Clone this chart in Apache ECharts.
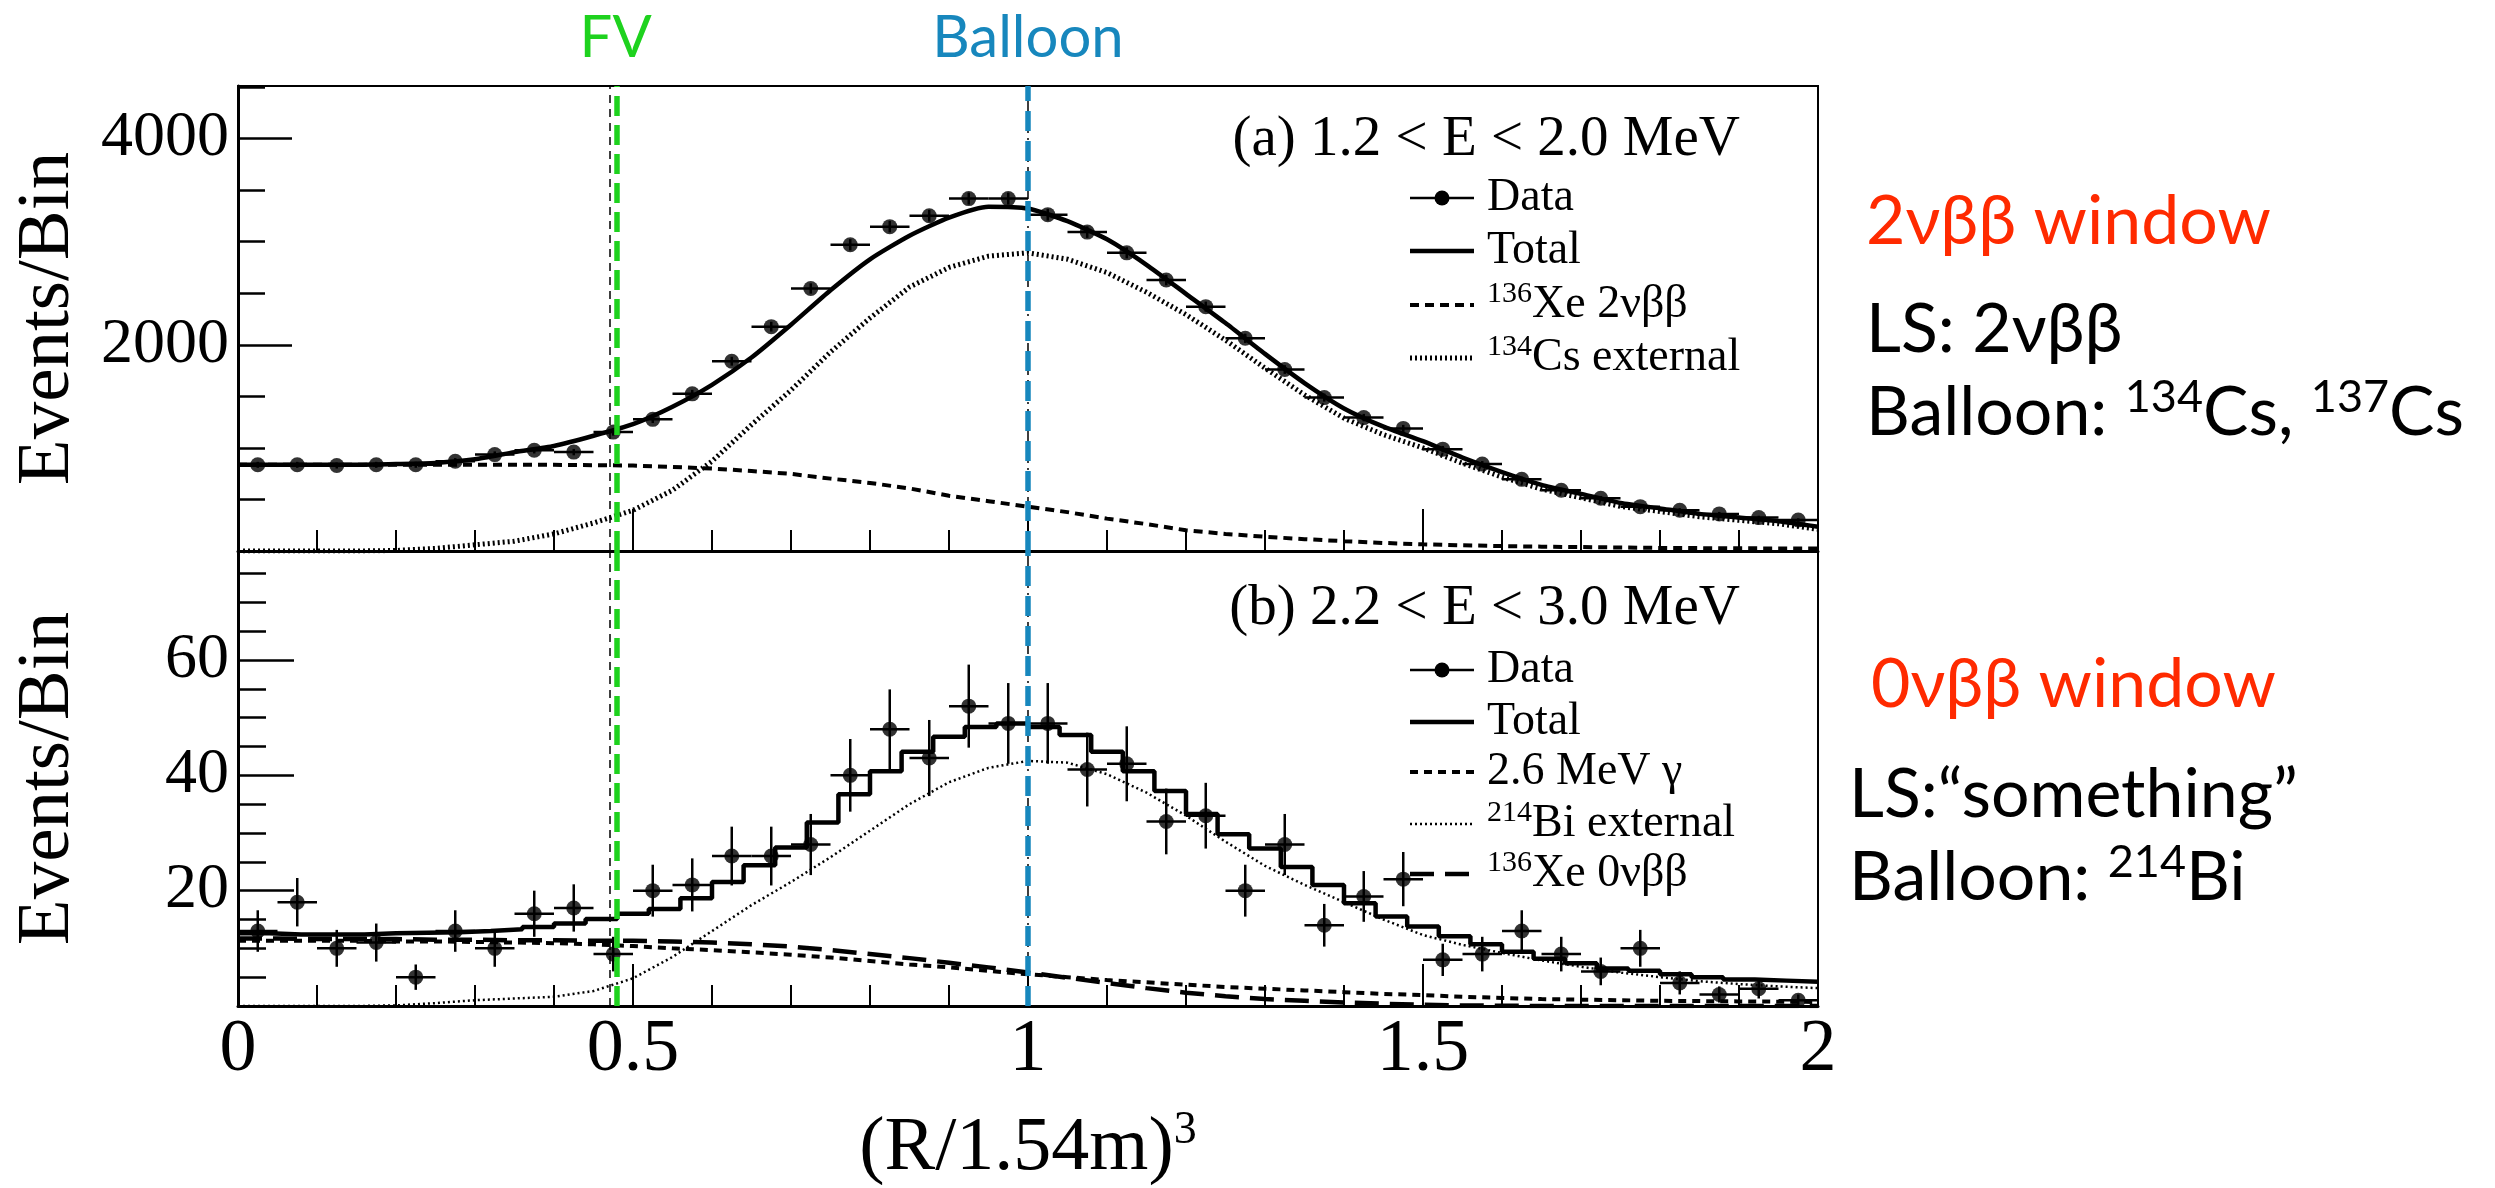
<!DOCTYPE html>
<html>
<head>
<meta charset="utf-8">
<script src="https://cdn.jsdelivr.net/npm/echarts@6/dist/echarts.min.js"></script>
<style>
  html, body { margin: 0; padding: 0; background: #ffffff; }
  #chart { width: 2495px; height: 1188px; }
</style>
</head>
<body>
<div id="chart"></div>
<script>
// ---- radial distribution, (R/1.54m)^3, 40 data bins of width 0.05 ----
const binWidth = 0.05;
const dataX = [0.025, 0.075, 0.125, 0.175, 0.225, 0.275, 0.325, 0.375, 0.425, 0.475,
               0.525, 0.575, 0.625, 0.675, 0.725, 0.775, 0.825, 0.875, 0.925, 0.975,
               1.025, 1.075, 1.125, 1.175, 1.225, 1.275, 1.325, 1.375, 1.425, 1.475,
               1.525, 1.575, 1.625, 1.675, 1.725, 1.775, 1.825, 1.875, 1.925, 1.975];

// (a) 1.2 < E < 2.0 MeV
const topData = [836, 836, 829, 836, 836, 871, 935, 977, 959, 1153,
                 1277, 1524, 1841, 2176, 2546, 2970, 3146, 3252, 3418, 3418,
                 3262, 3093, 2892, 2628, 2370, 2063, 1760, 1488, 1294, 1189,
                 988, 843, 695, 589, 511, 430, 395, 360, 324, 300];
const topErr = [29, 29, 29, 29, 29, 30, 31, 31, 31, 34,
                36, 39, 43, 47, 50, 55, 56, 57, 58, 58,
                57, 56, 54, 51, 49, 45, 42, 39, 36, 34,
                31, 29, 26, 24, 23, 21, 20, 19, 18, 17];

// (b) 2.2 < E < 3.0 MeV
const botData = [13, 18, 10, 11, 5, 13, 10, 16, 17, 9,
                 20, 21, 26, 26, 28, 40, 48, 43, 52, 49,
                 49, 41, 42, 32, 33, 20, 28, 14, 19, 22,
                 8, 9, 13, 9, 6, 10, 4, 2, 3, 1];
const botErr = [3.6, 4.2, 3.2, 3.3, 2.2, 3.6, 3.2, 4.0, 4.1, 3.0,
                4.5, 4.6, 5.1, 5.1, 5.3, 6.3, 6.9, 6.6, 7.2, 7.0,
                7.0, 6.4, 6.5, 5.7, 5.7, 4.5, 5.3, 3.7, 4.4, 4.7,
                2.8, 3.0, 3.6, 3.0, 2.4, 3.2, 2.0, 1.4, 1.7, 1.0];

// ---- fit components, sampled every 0.05 ----
const curveX = [0, 0.05, 0.1, 0.15, 0.2, 0.25, 0.3, 0.35, 0.4, 0.45,
                0.5, 0.55, 0.6, 0.65, 0.7, 0.75, 0.8, 0.85, 0.9, 0.95,
                1.0, 1.05, 1.1, 1.15, 1.2, 1.25, 1.3, 1.35, 1.4, 1.45,
                1.5, 1.55, 1.6, 1.65, 1.7, 1.75, 1.8, 1.85, 1.9, 1.95, 2.0];

const topTotal = [836, 836, 836, 836, 843, 854, 889, 959, 1019, 1118,
                  1231, 1400, 1612, 1876, 2194, 2529, 2829, 3058, 3234, 3340,
                  3322, 3199, 3023, 2776, 2494, 2211, 1912, 1629, 1383, 1206,
                  1065, 906, 765, 642, 554, 466, 413, 360, 324, 289, 236];
const topXe2nu = [836, 836, 836, 836, 836, 836, 836, 836, 836, 832,
                  829, 815, 800, 776, 748, 702, 660, 607, 536, 483,
                  430, 377, 314, 261, 201, 166, 138, 115, 95, 78,
                  65, 55, 48, 42, 38, 34, 30, 28, 26, 25, 25];
const topCs134 = [0, 0, 0, 0, 5, 25, 60, 95, 166, 272,
                  395, 589, 871, 1224, 1560, 1930, 2260, 2560, 2750, 2860,
                  2892, 2830, 2700, 2510, 2293, 2045, 1774, 1514, 1288, 1128,
                  1000, 851, 717, 600, 516, 432, 383, 332, 298, 264, 211];

const botGamma = [11.3, 11.3, 11.3, 11.3, 11.2, 11.2, 11.1, 11.0, 10.9, 10.7,
                  10.4, 10.0, 9.7, 9.3, 8.9, 8.4, 7.8, 7.2, 6.7, 6.1,
                  5.5, 5.0, 4.5, 4.1, 3.7, 3.3, 3.0, 2.7, 2.4, 2.1,
                  1.9, 1.6, 1.4, 1.2, 1.1, 1.0, 0.9, 0.85, 0.8, 0.75, 0.7];
const botBi214 = [0, 0, 0, 0, 0.1, 0.5, 1.0, 1.3, 1.6, 2.6,
                  4.8, 8.5, 13.0, 17.5, 21.5, 25.8, 30.4, 35.0, 38.8, 41.3,
                  42.5, 42.2, 40.2, 37.0, 33.0, 28.5, 24.3, 21.0, 18.0, 15.0,
                  12.3, 10.6, 9.2, 7.9, 6.8, 5.8, 5.0, 4.3, 3.8, 3.4, 3.1];
const botXe0nu = [11.7, 11.7, 11.6, 11.6, 11.6, 11.5, 11.5, 11.4, 11.4, 11.3,
                  11.3, 11.2, 11.0, 10.7, 10.3, 9.7, 9.0, 8.3, 7.5, 6.7,
                  5.8, 4.9, 4.0, 3.1, 2.3, 1.7, 1.2, 0.9, 0.6, 0.4,
                  0.2, 0.1, 0.05, 0, 0, 0, 0, 0, 0, 0, 0];

// total fit in (b) is a histogram with 50 bins of width 0.04
const botTotalBinWidth = 0.04;
const botTotalBins = [12.6, 12.4, 12.4, 12.4, 12.6, 12.7, 12.8, 13.0, 13.3, 13.7,
                      14.3, 15.1, 16.0, 16.8, 18.7, 21.5, 24.4, 27.5, 31.8, 36.7,
                      40.7, 44.1, 46.7, 48.4, 49.0, 48.4, 47.0, 44.1, 40.7, 37.3,
                      33.3, 29.8, 27.3, 24.1, 21.0, 17.8, 15.5, 13.8, 12.1, 10.7,
                      9.4, 8.2, 7.4, 6.5, 6.1, 5.5, 5.0, 4.6, 4.4, 4.2];

// fiducial-volume cut and balloon radius in (R/1.54m)^3
const fvCutLine = 0.472;
const fvMarker = 0.478;
const balloonLine = 1.0;

// axis ranges and tick steps
const xRange = [0, 2];
const topRange = [0, 4510];
const botRange = [0, 78.9];
const topMajor = 2000, topMinor = 500;
const botMajor = 20, botMinor = 5;

// ---------------------------------------------------------------
const SERIF = '"Liberation Serif", "Times New Roman", serif';
const SANS = 'Lato, "Open Sans", sans-serif';
const GREEN = '#1ed21e';
const BLUE = '#1787bd';
const RED = '#ff2a00';

const chart = echarts.init(document.getElementById('chart'), null, { renderer: 'canvas', width: 2495, height: 1188 });

const pair = (xs, ys) => xs.map((x, i) => [x, ys[i]]);

function errorBars(xi, yi, ys, es) {
  return {
    type: 'custom', xAxisIndex: xi, yAxisIndex: yi, z: 6, silent: true,
    data: dataX.map((x, i) => [x, ys[i], es[i]]),
    encode: { x: 0, y: 1 },
    renderItem(params, api) {
      const x = api.value(0), y = api.value(1), e = api.value(2);
      const l = api.coord([x - binWidth / 2, y]);
      const r = api.coord([x + binWidth / 2, y]);
      const t = api.coord([x, y + e]);
      const b = api.coord([x, y - e]);
      const st = { stroke: '#000', lineWidth: 2.5 };
      return {
        type: 'group', children: [
          { type: 'line', shape: { x1: l[0], y1: l[1], x2: r[0], y2: r[1] }, style: st },
          { type: 'line', shape: { x1: t[0], y1: t[1], x2: b[0], y2: b[1] }, style: st }
        ]
      };
    }
  };
}

function points(xi, yi, ys) {
  return {
    type: 'scatter', xAxisIndex: xi, yAxisIndex: yi, z: 7, silent: true,
    symbol: 'circle', symbolSize: 15, itemStyle: { color: '#000' },
    data: pair(dataX, ys)
  };
}

function curve(xi, yi, ys, style, extra) {
  return Object.assign({
    type: 'line', xAxisIndex: xi, yAxisIndex: yi, z: 4, silent: true,
    showSymbol: false, symbol: 'none', smooth: false,
    lineStyle: Object.assign({ color: '#000' }, style),
    data: pair(curveX, ys)
  }, extra || {});
}

function guideLines(xi, yi) {
  return [
    {
      type: 'line', xAxisIndex: xi, yAxisIndex: yi, data: [], z: 3, silent: true,
      markLine: {
        silent: true, symbol: ['none', 'none'], label: { show: false }, animation: false,
        data: [
          { xAxis: fvCutLine, lineStyle: { color: '#000', width: 1.5, type: [8, 6] } },
          { xAxis: balloonLine, lineStyle: { color: '#000', width: 1.5, type: [10, 5, 2, 5] } }
        ]
      }
    },
    {
      type: 'line', xAxisIndex: xi, yAxisIndex: yi, data: [], z: 10, silent: true,
      markLine: {
        silent: true, symbol: ['none', 'none'], label: { show: false }, animation: false, z: 10,
        data: [
          { xAxis: fvMarker, lineStyle: { color: GREEN, width: 5.5, type: [20, 9] } },
          { xAxis: balloonLine, lineStyle: { color: BLUE, width: 5.5, type: [20, 10] } }
        ]
      }
    }
  ];
}

const styles = {
  total: { width: 4.5, type: 'solid' },
  xe2: { width: 4, type: [9, 6] },
  cs: { width: 5, type: [2, 3] },
  gamma: { width: 4, type: [8, 6] },
  bi: { width: 2.5, type: [2, 3] },
  xe0: { width: 4.5, type: [24, 11] }
};

const G = { left: 238, right: 1818, top: 86, mid: 551, bottom: 1044 };

function xAxisDef(gridIndex, labels) {
  return {
    type: 'value', gridIndex, min: xRange[0], max: xRange[1], interval: 0.5,
    axisLine: { show: true, onZero: false, lineStyle: { color: '#000', width: 3 } },
    axisTick: { show: true, inside: true, length: 42, lineStyle: { color: '#000', width: 2 } },
    minorTick: { show: true, splitNumber: 5, length: 21, lineStyle: { color: '#000', width: 2 } },
    splitLine: { show: false }, minorSplitLine: { show: false },
    axisLabel: labels ? {
      show: true, color: '#000', fontFamily: SERIF, fontSize: 74, margin: 8,
      formatter: v => String(v)
    } : { show: false },
    name: labels ? '{m|(R/1.54m)}{s|3}' : '',
    nameLocation: 'middle', nameGap: 102,
    nameTextStyle: {
      color: '#000', fontFamily: SERIF,
      rich: {
        m: { fontSize: 76, fontFamily: SERIF, color: '#000', lineHeight: 82 },
        s: { fontSize: 46, fontFamily: SERIF, color: '#000', verticalAlign: 'top', lineHeight: 82 }
      }
    }
  };
}

function yAxisPair(gridIndex, range, major, minor, tickMajor, tickMinor) {
  const base = {
    type: 'value', gridIndex, position: 'left', min: range[0], max: range[1],
    splitLine: { show: false }
  };
  return [
    Object.assign({}, base, {
      interval: minor,
      axisLine: { show: true, onZero: false, lineStyle: { color: '#000', width: 3 } },
      axisTick: { show: true, inside: true, length: tickMinor, lineStyle: { color: '#000', width: 2.5 } },
      axisLabel: { show: false }
    }),
    Object.assign({}, base, {
      interval: major,
      axisLine: { show: false },
      axisTick: { show: true, inside: true, length: tickMajor, lineStyle: { color: '#000', width: 2.5 } },
      axisLabel: {
        show: true, color: '#000', fontFamily: SERIF, fontSize: 64, margin: 9,
        showMinLabel: false, showMaxLabel: false,
        formatter: v => String(v)
      },
      name: 'Events/Bin', nameLocation: 'middle', nameRotate: 90, nameGap: 152,
      nameTextStyle: { color: '#000', fontFamily: SERIF, fontSize: 75 }
    })
  ];
}

const stepTotal = botTotalBins.map((v, i) => [+(i * botTotalBinWidth).toFixed(2), v]);
stepTotal.push([xRange[1], botTotalBins[botTotalBins.length - 1]]);

const series = [
  // (a)
  curve(0, 0, topCs134, styles.cs),
  curve(0, 0, topXe2nu, styles.xe2),
  curve(0, 0, topTotal, styles.total, { smooth: 0.2 }),
  errorBars(0, 0, topData, topErr),
  points(0, 0, topData),
  // (b)
  curve(1, 2, botBi214, styles.bi),
  curve(1, 2, botGamma, styles.gamma),
  curve(1, 2, botXe0nu, styles.xe0),
  {
    type: 'line', xAxisIndex: 1, yAxisIndex: 2, z: 4, silent: true, showSymbol: false, symbol: 'none',
    step: 'end', lineStyle: Object.assign({ color: '#000' }, styles.total), data: stepTotal
  },
  errorBars(1, 2, botData, botErr),
  points(1, 2, botData)
].concat(guideLines(0, 0), guideLines(1, 2));

// ---- legends, panel captions and side notes ----
function legendBlock(x0, rows) {
  const els = [];
  rows.forEach(r => {
    const y = r.y;
    if (r.kind === 'data') {
      els.push({ type: 'line', shape: { x1: x0, y1: y, x2: x0 + 64, y2: y }, style: { stroke: '#000', lineWidth: 2.5 } });
      els.push({ type: 'circle', shape: { cx: x0 + 32, cy: y, r: 7.5 }, style: { fill: '#000' } });
    } else {
      const s = styles[r.kind];
      els.push({
        type: 'line', shape: { x1: x0, y1: y, x2: x0 + 64, y2: y },
        style: { stroke: '#000', lineWidth: s.width, lineDash: s.type === 'solid' ? null : s.type }
      });
    }
    els.push({
      type: 'text', x: x0 + 77, y: y,
      style: {
        text: r.text, fill: '#000', verticalAlign: 'middle', align: 'left',
        fontFamily: SERIF, fontSize: 46,
        rich: {
          n: { fontFamily: SERIF, fontSize: 46, lineHeight: 52, fill: '#000' },
          s: { fontFamily: SERIF, fontSize: 30, lineHeight: 52, verticalAlign: 'top', fill: '#000' }
        }
      }
    });
  });
  return els;
}

function caption(text, x, y, size, color, align) {
  return {
    type: 'text', x, y,
    style: {
      text, fill: color, align: align || 'left', verticalAlign: 'middle',
      fontFamily: SANS, fontSize: size,
      rich: {
        n: { fontFamily: SANS, fontSize: size, lineHeight: size + 8, fill: color },
        s: { fontFamily: SANS, fontSize: Math.round(size * 0.66), lineHeight: size + 8, verticalAlign: 'top', fill: color }
      }
    }
  };
}

const graphics = []
  .concat(legendBlock(1410, [
    { y: 198, kind: 'data', text: '{n|Data}' },
    { y: 251, kind: 'total', text: '{n|Total}' },
    { y: 305, kind: 'xe2', text: '{s|136}{n|Xe 2νββ}' },
    { y: 358, kind: 'cs', text: '{s|134}{n|Cs external}' }
  ]))
  .concat(legendBlock(1410, [
    { y: 670, kind: 'data', text: '{n|Data}' },
    { y: 722, kind: 'total', text: '{n|Total}' },
    { y: 772, kind: 'gamma', text: '{n|2.6 MeV γ}' },
    { y: 824, kind: 'bi', text: '{s|214}{n|Bi external}' },
    { y: 874, kind: 'xe0', text: '{s|136}{n|Xe 0νββ}' }
  ]))
  .concat([
    { type: 'text', x: 1740, y: 140, style: { text: '(a) 1.2 < E < 2.0 MeV', fill: '#000', align: 'right', verticalAlign: 'middle', fontFamily: SERIF, fontSize: 57 } },
    { type: 'text', x: 1740, y: 609, style: { text: '(b) 2.2 < E < 3.0 MeV', fill: '#000', align: 'right', verticalAlign: 'middle', fontFamily: SERIF, fontSize: 57 } },
    caption('{n|2νββ window}', 1866, 222, 68, RED),
    caption('{n|LS: 2νββ}', 1866, 330, 68, '#000'),
    caption('{n|Balloon: }{s|134}{n|Cs, }{s|137}{n|Cs}', 1866, 413, 68, '#000'),
    caption('{n|0νββ window}', 1871, 685, 68, RED),
    caption('{n|LS:“something”}', 1849, 795, 68, '#000'),
    caption('{n|Balloon: }{s|214}{n|Bi}', 1849, 878, 68, '#000')
  ]);

chart.setOption({
  animation: false,
  backgroundColor: '#ffffff',
  grid: [
    { left: G.left, top: G.top, width: G.right - G.left, height: G.mid - G.top, show: true, borderColor: '#000', borderWidth: 2, containLabel: false },
    { left: G.left, top: G.mid, width: G.right - G.left, height: G.bottom - G.mid, show: true, borderColor: '#000', borderWidth: 2, containLabel: false }
  ],
  xAxis: [xAxisDef(0, false), xAxisDef(1, true)],
  yAxis: yAxisPair(0, topRange, topMajor, topMinor, 54, 27)
    .concat(yAxisPair(1, botRange, botMajor, botMinor, 56, 28)),
  series,
  graphic: graphics
});

// vertical-line captions placed through the x scale
const fvPx = chart.convertToPixel({ xAxisIndex: 0 }, fvMarker);
const balloonPx = chart.convertToPixel({ xAxisIndex: 0 }, balloonLine);
chart.setOption({
  graphic: graphics.concat([
    { type: 'text', x: fvPx, y: 38, style: { text: 'FV', fill: GREEN, align: 'center', verticalAlign: 'middle', fontFamily: SANS, fontSize: 58 } },
    { type: 'text', x: balloonPx, y: 38, style: { text: 'Balloon', fill: BLUE, align: 'center', verticalAlign: 'middle', fontFamily: SANS, fontSize: 58 } }
  ])
});
</script>
</body>
</html>
